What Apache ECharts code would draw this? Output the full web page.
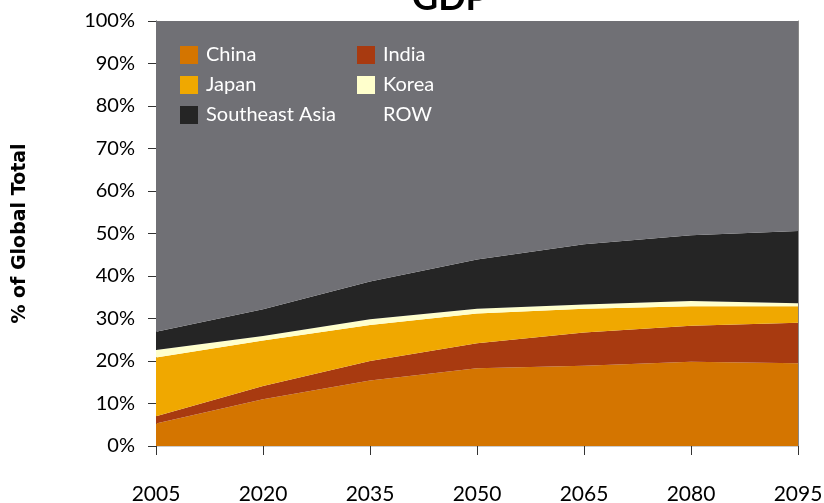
<!DOCTYPE html>
<html>
<head>
<meta charset="utf-8">
<script src="https://cdn.jsdelivr.net/npm/echarts@6/dist/echarts.min.js"></script>
<style>html,body{margin:0;padding:0;background:#fff;}#c{width:824px;height:503px;}</style>
</head>
<body>
<div id="c"></div>
<script>
var years = ['2005','2020','2035','2050','2065','2080','2095'];
var china = [5.3, 11.0, 15.4, 18.3, 18.9, 19.8, 19.5];
var india = [1.7, 3.1, 4.6, 5.9, 7.8, 8.5, 9.5];
var japan = [13.8, 10.7, 8.5, 7.0, 5.6, 4.6, 3.9];
var korea = [1.8, 1.1, 1.3, 1.1, 1.0, 1.2, 0.7];
var seAsia = [4.3, 6.3, 8.9, 11.6, 14.2, 15.5, 17.0];
var row = [73.1, 67.8, 61.3, 56.1, 52.5, 50.4, 49.4];
var yTicks = [0,10,20,30,40,50,60,70,80,90,100];

var FONT = 'Lato';
function area(name, data, color) {
  return {
    name: name, type: 'line', stack: 'total', data: data,
    symbol: 'none', smooth: false,
    lineStyle: { width: 0, color: color },
    itemStyle: { color: color },
    areaStyle: { color: color, opacity: 1 }
  };
}
var legendText = { color: '#ffffff', fontFamily: FONT, fontSize: 20, padding: [0,0,0,3], lineHeight: 18 };
var chart = echarts.init(document.getElementById('c'));
chart.setOption({
  animation: false,
  title: {
    text: 'GDP', left: 445, top: -25, textAlign: 'center',
    textStyle: { fontFamily: FONT, fontWeight: 'bold', fontSize: 36, color: '#000' }
  },
  legend: [
    { data: ['China','Japan','Southeast Asia'], orient: 'vertical', left: 175, top: 40,
      itemWidth: 18, itemHeight: 18, itemGap: 10, icon: 'rect', textStyle: legendText, selectedMode: false },
    { data: ['India','Korea','ROW'], orient: 'vertical', left: 352, top: 40,
      itemWidth: 18, itemHeight: 18, itemGap: 10, icon: 'rect', textStyle: legendText, selectedMode: false }
  ],
  grid: { left: 156, right: 26, top: 21, bottom: 57, containLabel: false, outerBoundsMode: 'none' },
  xAxis: [{
    type: 'category', data: years, boundaryGap: false,
    axisLine: { lineStyle: { color: '#333', width: 1 } },
    axisTick: { show: true, length: 9, lineStyle: { color: '#333' }, alignWithLabel: true },
    axisLabel: { color: '#000', fontFamily: FONT, fontSize: 21, margin: 38, interval: 0 },
    splitLine: { show: false }
  }, {
    type: 'category', data: years, boundaryGap: false, position: 'top',
    axisLine: { lineStyle: { color: '#cccccc', width: 1 } },
    axisTick: { show: false }, axisLabel: { show: false }
  }],
  yAxis: [{
    type: 'value', min: 0, max: 100, interval: 10,
    name: '% of Global Total', nameLocation: 'middle', nameGap: 126, nameRotate: 90,
    nameTextStyle: { fontFamily: 'DejaVu Sans', fontWeight: 'bold', fontSize: 19, color: '#000' },
    axisLine: { show: true, lineStyle: { color: '#333', width: 1 } },
    axisTick: { show: true, length: 8, lineStyle: { color: '#333' } },
    axisLabel: { color: '#000', fontFamily: FONT, fontSize: 20, margin: 21,
      formatter: function (v) { return yTicks.indexOf(v) >= 0 ? v + '%' : ''; } },
    splitLine: { show: false }
  }, {
    type: 'value', min: 0, max: 100, interval: 10, position: 'right',
    axisLine: { show: true, lineStyle: { color: '#888', width: 1 } },
    axisTick: { show: false }, axisLabel: { show: false }, splitLine: { show: false }
  }],
  series: [
    area('China', china, '#D47500'),
    area('India', india, '#A83A10'),
    area('Japan', japan, '#F0A800'),
    area('Korea', korea, '#FFFFCC'),
    area('Southeast Asia', seAsia, '#252525'),
    area('ROW', row, '#707075')
  ]
});
</script>
</body>
</html>
